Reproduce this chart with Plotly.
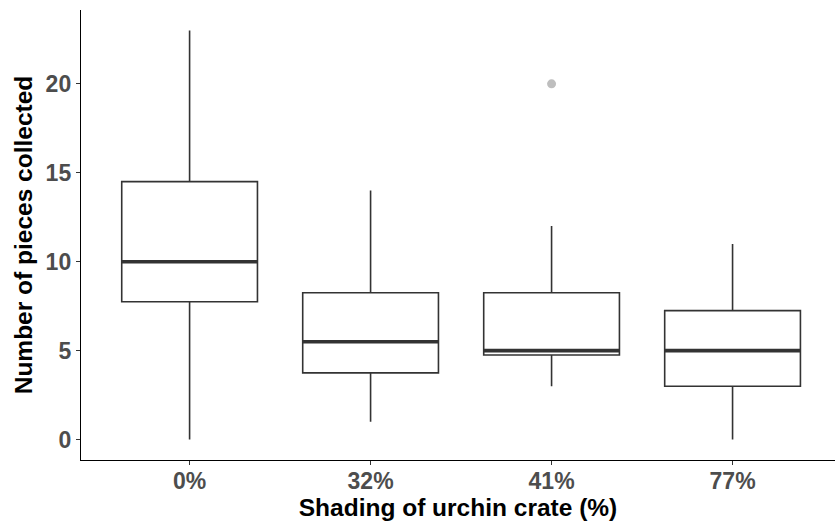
import plotly.graph_objects as go

categories = ["0%", "32%", "41%", "77%"]
lower_whisker = [0, 1, 3, 0]
q1_vals = [7.75, 3.75, 4.75, 3.0]
median_vals = [10, 5.5, 5, 5]
q3_vals = [14.5, 8.25, 8.25, 7.25]
upper_whisker = [23, 14, 12, 11]
outlier_cat = ["41%"]
outlier_vals = [20]

positions = list(range(1, len(categories) + 1))
box_width = 0.75

fig = go.Figure()
fig.add_trace(go.Box(
    x=positions, q1=q1_vals, median=median_vals, q3=q3_vals,
    lowerfence=lower_whisker, upperfence=upper_whisker,
    width=box_width, fillcolor="white",
    line=dict(color="#333333", width=1.6),
    boxpoints=False, whiskerwidth=0, hoverinfo="skip", showlegend=False,
))

# thick median segments (ggplot style)
mx, my = [], []
for p, m in zip(positions, median_vals):
    mx += [p - box_width / 2, p + box_width / 2, None]
    my += [m, m, None]
fig.add_trace(go.Scatter(x=mx, y=my, mode="lines",
                         line=dict(color="#333333", width=3.6),
                         hoverinfo="skip", showlegend=False))

fig.add_trace(go.Scatter(
    x=[positions[categories.index(c)] for c in outlier_cat], y=outlier_vals,
    mode="markers", marker=dict(color="#BEBEBE", size=9),
    hoverinfo="skip", showlegend=False))

font_family = "Liberation Sans, Arial, Helvetica, sans-serif"
fig.update_layout(
    width=835, height=523,
    margin=dict(l=81, r=0, t=10, b=63),
    paper_bgcolor="white", plot_bgcolor="white",
    font=dict(family=font_family),
    xaxis=dict(
        range=[0.4, 4.566], tickvals=positions, ticktext=categories,
        showgrid=False, zeroline=False,
        showline=True, linecolor="black", linewidth=1.4,
        ticks="outside", ticklen=4, tickcolor="#333333", tickwidth=1.1,
        ticklabelstandoff=-4,
        tickfont=dict(size=23, color="#4D4D4D", family=font_family, weight="bold"),
        title=dict(text="Shading of urchin crate (%)",
                   font=dict(size=24.5, color="black", family=font_family, weight="bold"),
                   standoff=2),
        automargin=False,
    ),
    yaxis=dict(
        range=[-1.15, 24.15], tickvals=[0, 5, 10, 15, 20],
        showgrid=False, zeroline=False,
        showline=True, linecolor="black", linewidth=1.4,
        ticks="outside", ticklen=4, tickcolor="#333333", tickwidth=1.1,
        tickfont=dict(size=23, color="#4D4D4D", family=font_family, weight="bold"),
        title=dict(text="Number of pieces collected",
                   font=dict(size=24.5, color="black", family=font_family, weight="bold"),
                   standoff=6),
        automargin=False,
    ),
)

fig.write_html(
    "out.html",
    config={"displayModeBar": False},
    post_script="document.body.style.margin='0';document.body.style.overflow='hidden';",
)
